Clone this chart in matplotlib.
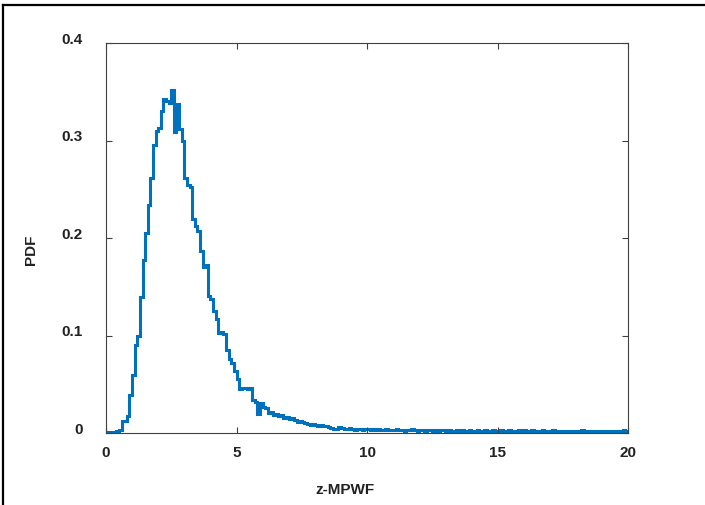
import numpy as np
import matplotlib
matplotlib.use("Agg")
import matplotlib.pyplot as plt
from matplotlib.lines import Line2D

plt.rcParams['font.family'] = ['Liberation Sans', 'DejaVu Sans']

# histogram of z-MPWF, bin width 0.1 from 0 to 20
bin_width = 0.1
pdf_head = [
    0.001, 0.001, 0.001, 0.001, 0.002, 0.003, 0.012, 0.012, 0.017, 0.039,   # 0.0 - 0.9
    0.060, 0.090, 0.100, 0.139, 0.177, 0.205, 0.234, 0.262, 0.295, 0.310,   # 1.0 - 1.9
    0.313, 0.330, 0.343, 0.341, 0.338, 0.352, 0.309, 0.337, 0.312, 0.300,   # 2.0 - 2.9
    0.262, 0.254, 0.252, 0.219, 0.212, 0.207, 0.187, 0.170, 0.172, 0.141,   # 3.0 - 3.9
    0.137, 0.125, 0.117, 0.103, 0.104, 0.102, 0.085, 0.076, 0.072, 0.064,   # 4.0 - 4.9
    0.055, 0.045, 0.046, 0.046, 0.045, 0.046, 0.034, 0.032, 0.020, 0.031,   # 5.0 - 5.9
    0.027, 0.026, 0.021, 0.022, 0.018, 0.019, 0.017, 0.018, 0.015, 0.016,   # 6.0 - 6.9
    0.014, 0.015, 0.013, 0.011, 0.012, 0.011, 0.010, 0.009, 0.008, 0.009,   # 7.0 - 7.9
    0.008, 0.007, 0.008, 0.007, 0.007, 0.006, 0.005, 0.004, 0.004, 0.006,   # 8.0 - 8.9
]
pdf_tail = [
    0.005, 0.004, 0.004, 0.005, 0.004, 0.003, 0.004, 0.004, 0.003, 0.004,   # 9
    0.004, 0.003, 0.004, 0.003, 0.004, 0.003, 0.003, 0.004, 0.003, 0.003,   # 10
    0.003, 0.004, 0.003, 0.003, 0.002, 0.003, 0.003, 0.004, 0.003, 0.002,   # 11
    0.003, 0.003, 0.002, 0.003, 0.003, 0.002, 0.003, 0.002, 0.003, 0.003,   # 12
    0.002, 0.003, 0.002, 0.002, 0.003, 0.002, 0.003, 0.002, 0.002, 0.003,   # 13
    0.002, 0.002, 0.003, 0.002, 0.002, 0.003, 0.002, 0.002, 0.003, 0.002,   # 14
    0.002, 0.003, 0.002, 0.002, 0.003, 0.002, 0.002, 0.002, 0.003, 0.002,   # 15
    0.003, 0.002, 0.002, 0.003, 0.002, 0.002, 0.002, 0.003, 0.002, 0.002,   # 16
    0.002, 0.003, 0.002, 0.002, 0.002, 0.002, 0.001, 0.002, 0.002, 0.002,   # 17
    0.002, 0.002, 0.003, 0.002, 0.002, 0.001, 0.002, 0.002, 0.002, 0.001,   # 18
    0.002, 0.001, 0.002, 0.002, 0.002, 0.002, 0.001, 0.002, 0.003, 0.002,   # 19
]
pdf = np.array(pdf_head + pdf_tail)
edges = np.arange(len(pdf) + 1) * bin_width

xticks = [0, 5, 10, 15, 20]
yticks = [0, 0.1, 0.2, 0.3, 0.4]
ytick_labels = ['0', '0.1', '0.2', '0.3', '0.4']

fig = plt.figure(figsize=(7.05, 5.06), dpi=100)
ax = fig.add_axes([106 / 705, 72 / 506, 522 / 705, 390 / 506])

ax.stairs(pdf, edges, baseline=None, color='#0072BD', linewidth=2.2)

ax.set_xlim(0, 20)
ax.set_ylim(0, 0.4)
ax.set_xticks(xticks)
ax.set_yticks(yticks)
ax.set_yticklabels(ytick_labels)
for lab in ax.get_yticklabels():
    lab.set_verticalalignment('baseline')

ax.tick_params(direction='in', length=4, width=0.8, color='#404040',
               top=True, right=True, labelsize=11, labelcolor='#222222')
ax.tick_params(axis='y', pad=17)
ax.tick_params(axis='x', pad=9)
for lab in ax.get_xticklabels() + ax.get_yticklabels():
    lab.set_fontweight('bold')
for sp in ax.spines.values():
    sp.set_color('#404040')
    sp.set_linewidth(0.8)

ax.set_xlabel('z-MPWF', fontsize=11, fontweight='bold', color='#222222')
ax.set_ylabel('PDF', fontsize=11, fontweight='bold', color='#222222')
ax.xaxis.set_label_coords(0.458, -0.125)
ax.yaxis.set_label_coords(-0.13, 0.472)

# outer frame (left and top edges only visible)
fig.add_artist(Line2D([3 / 705, 3 / 705], [0, 1 - 6 / 506], transform=fig.transFigure,
                      color='black', linewidth=1.6))
fig.add_artist(Line2D([3 / 705, 1], [1 - 6 / 506, 1 - 6 / 506], transform=fig.transFigure,
                      color='black', linewidth=1.6))

fig.savefig('out.png', dpi=100)
